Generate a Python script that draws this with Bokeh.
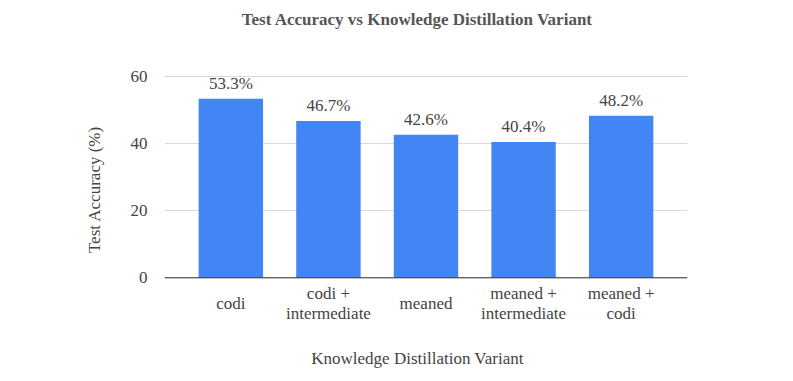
from bokeh.plotting import figure
from bokeh.models import ColumnDataSource, FactorRange, Range1d, LabelSet, Label, Title, Span
from bokeh.core.properties import value
from bokeh.embed import file_html
from bokeh.resources import INLINE

categories = ["codi", "codi + intermediate", "meaned", "meaned + intermediate", "meaned + codi"]
tick_lines = [["codi"], ["codi +", "intermediate"], ["meaned"],
              ["meaned +", "intermediate"], ["meaned +", "codi"]]
accuracy = [53.3, 46.7, 42.6, 40.4, 48.2]
labels = ["53.3%", "46.7%", "42.6%", "40.4%", "48.2%"]
y_ticks = [0, 20, 40, 60]

FONT = "Liberation Serif"
TXT = "#444444"
FS = "17px"

src = ColumnDataSource(dict(cat=categories, acc=accuracy, lab=labels))

# frame extends above and below the value axis so that all texts sit inside it
p = figure(frame_width=523, frame_height=370, output_backend="svg", toolbar_location=None,
           x_range=FactorRange(*categories, range_padding=0.18, range_padding_units="absolute"),
           y_range=Range1d(-28.78, 81.34),
           min_border_left=164, min_border_right=98, min_border_top=4, min_border_bottom=3)
p.outline_line_color = None
p.background_fill_color = None
p.border_fill_color = "white"

p.vbar(x="cat", top="acc", width=0.66, source=src, color="#4285F4", line_color=None)

p.add_layout(Span(location=0, dimension="width", line_color="#333333", line_width=1))

p.add_layout(LabelSet(x="cat", y="acc", text="lab", source=src, text_align="center",
                      text_baseline="alphabetic", y_offset=10, text_font=value(FONT),
                      text_font_size=value(FS), text_color=TXT))

# category labels, one text per line
tx, tt, toff = [], [], []
for c, lines in zip(categories, tick_lines):
    n = len(lines)
    for j, line in enumerate(lines):
        tx.append(c)
        tt.append(line)
        toff.append(-(31 + (j - (n - 1) / 2) * 20))
tick_src = ColumnDataSource(dict(x=tx, y=[0] * len(tx), t=tt, off=toff))
p.add_layout(LabelSet(x="x", y="y", text="t", source=tick_src, text_align="center",
                      text_baseline="alphabetic", y_offset="off", text_font=value(FONT),
                      text_font_size=value(FS), text_color=TXT))

mid = len(categories) / 2
p.add_layout(Label(x=mid, y=60, text="Test Accuracy vs Knowledge Distillation Variant",
                   text_align="center", text_baseline="alphabetic", x_offset=-8.5, y_offset=57,
                   text_font=FONT, text_font_size=FS, text_font_style="bold",
                   text_color="#555555"))
p.add_layout(Label(x=mid, y=0, text="Knowledge Distillation Variant",
                   text_align="center", text_baseline="alphabetic", x_offset=-8.5, y_offset=-81,
                   text_font=FONT, text_font_size=FS, text_color=TXT))

p.add_layout(Title(text="Test Accuracy (%)", align="center", vertical_align="middle",
                   text_font=FONT, text_font_size=FS, text_font_style="normal",
                   text_color=TXT, offset=13, standoff=46), "left")

p.xgrid.grid_line_color = None
p.ygrid.grid_line_color = "#d9d9d9"
p.xaxis.visible = False
p.yaxis.ticker = y_ticks
p.yaxis.axis_line_color = None
p.yaxis.major_tick_line_color = None
p.yaxis.minor_tick_line_color = None
p.yaxis.major_label_standoff = 11
p.yaxis.major_label_text_font = FONT
p.yaxis.major_label_text_font_size = FS
p.yaxis.major_label_text_color = TXT

open("out.html", "w").write(file_html(p, INLINE))
